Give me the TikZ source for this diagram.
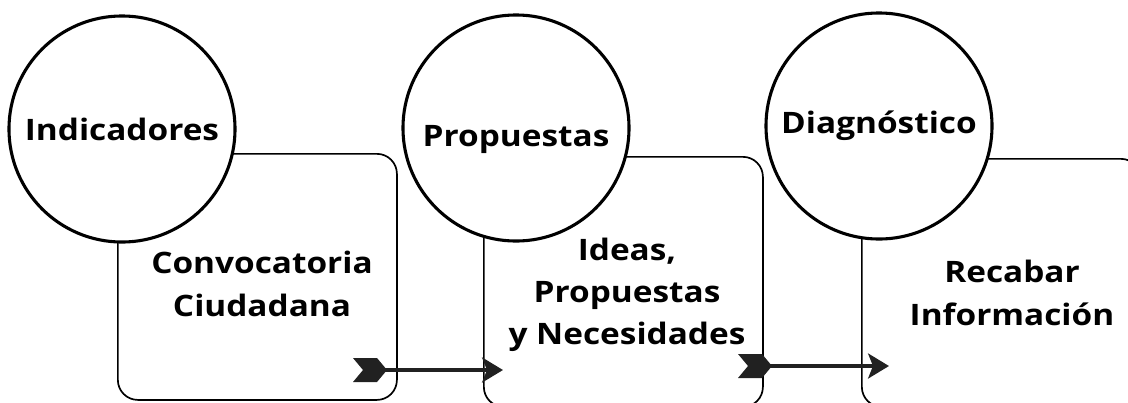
\documentclass[tikz,border=0pt]{standalone}
\usepackage{fontspec}
\setmainfont{Open Sans}[FakeStretch=1.13]
\usetikzlibrary{
    arrows.meta,
    positioning
}

\tikzset{
    bubble/.style={circle, draw, line width=2.2pt, fill=white, inner sep=0pt,
        minimum size=5.65cm, font=\fontsize{21}{30}\selectfont\bfseries},
    stagebox/.style={draw, line width=1.2pt, rounded corners=0.5cm,
        anchor=north west, inner sep=0pt, minimum width=6.975cm},
    stagetext/.style={align=center, font=\fontsize{21}{30}\selectfont\bfseries},
    flow/.style={draw=black!87, line width=2.9pt,
        -{Stealth[length=0.52cm, width=0.62cm, inset=0.12cm]}},
    fletch/.pic={
        \fill[black!87] (-10, -12) -- (14, -12) -- (24, 0) -- (14, 12)
            -- (-10, 12) -- (0, 0) -- cycle;
    }
}

\begin{document}
\begin{tikzpicture}[x=0.025cm, y=-0.025cm]
    \useasboundingbox (0, 0) rectangle (1128, 402);
    \clip (0, 0) rectangle (1128, 402);
    % boxes behind the circles
    \node[stagebox, minimum height=6.15cm] (conv) at (117, 153) {};
    \node[stagebox, minimum height=6.25cm] (ideas) at (483, 156) {};
    \node[stagebox, minimum height=6.2cm] (recab) at (861, 158) {};
    \node[stagetext] (convt) at (262, 284) {Convocatoria\\Ciudadana};
    \node[stagetext] (ideast) at (627, 295) {Ideas,\\Propuestas\\y Necesidades};
    \node[stagetext] (recabt) at (1012, 293) {Recabar\\Información};
    % circles
    \node[bubble] (ind) at (122, 129) {Indicadores};
    \node[bubble, text height=26pt, text depth=0pt] (prop) at (516, 128) {Propuestas};
    \node[bubble] (diag) at (879, 126) {Diagnóstico};
    % arrows
    \coordinate (a1s) at (363, 370);
    \coordinate (a1e) at (503, 370);
    \coordinate (a2s) at (748, 366);
    \coordinate (a2e) at (889, 366);
    \draw[flow] (a1s) -- (a1e);
    \draw[flow] (a2s) -- (a2e);
    \pic at (a1s) {fletch};
    \pic at (a2s) {fletch};
\end{tikzpicture}
\end{document}
